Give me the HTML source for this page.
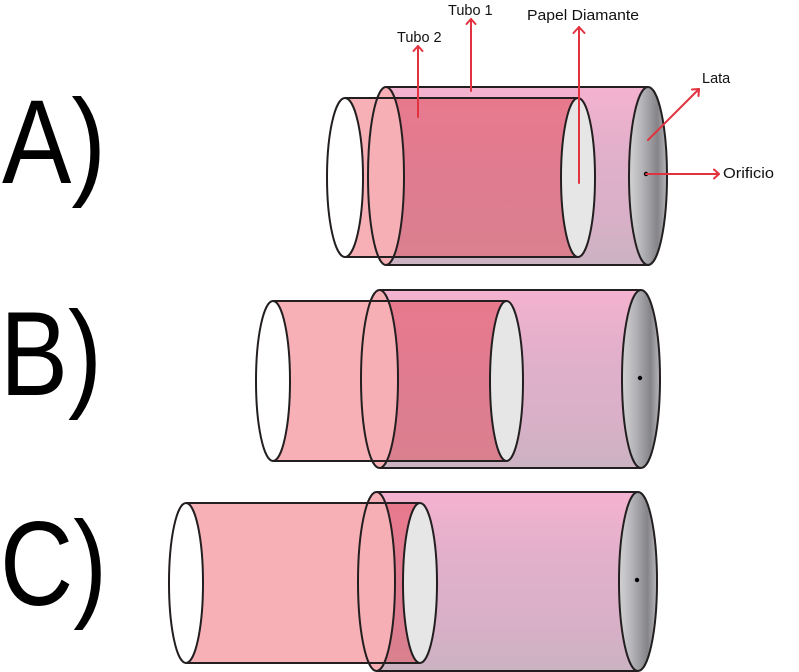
<!DOCTYPE html>
<html><head><meta charset="utf-8"><style>
html,body{margin:0;padding:0;background:#fff;}
svg{display:block;}
</style></head><body>
<svg width="799" height="672" viewBox="0 0 799 672" xmlns="http://www.w3.org/2000/svg">
<defs>
<linearGradient id="t1" x1="0" y1="0" x2="0" y2="1">
<stop offset="0" stop-color="#f4b2cf"/>
<stop offset="0.35" stop-color="#e2b0cb"/>
<stop offset="0.75" stop-color="#d8b0c7"/>
<stop offset="1" stop-color="#cbb3c2"/>
</linearGradient>
<linearGradient id="dk" x1="0" y1="0" x2="0" y2="1">
<stop offset="0" stop-color="#e8798d"/>
<stop offset="0.5" stop-color="#e07c90"/>
<stop offset="1" stop-color="#d9808f"/>
</linearGradient>
<linearGradient id="lata" x1="0" y1="0" x2="1" y2="0">
<stop offset="0" stop-color="#d2d2d4"/>
<stop offset="0.35" stop-color="#b4b4b8"/>
<stop offset="0.75" stop-color="#848489"/>
<stop offset="1" stop-color="#b8b8bc"/>
</linearGradient>
</defs>

<g font-family="Liberation Sans, Arial, sans-serif" fill="#000">
<text x="2" y="183" font-size="120" textLength="104" lengthAdjust="spacingAndGlyphs">A)</text>
<text x="0" y="395" font-size="120" textLength="102" lengthAdjust="spacingAndGlyphs">B)</text>
<text x="0" y="605" font-size="120" textLength="107" lengthAdjust="spacingAndGlyphs">C)</text>
</g>

<!-- Panel A -->
<g stroke="#231f20" stroke-width="2">
<rect x="386" y="87" width="262" height="178" fill="url(#t1)" stroke="none"/>
<rect x="345" y="98" width="233" height="159" fill="#f6b0b6" stroke="none"/>
<rect x="386" y="98" width="192" height="159" fill="url(#dk)" stroke="none"/>
<ellipse cx="386" cy="176" rx="18" ry="89" fill="#f6afb5"/>
<line x1="345" y1="98" x2="578" y2="98"/>
<line x1="345" y1="257" x2="578" y2="257"/>
<ellipse cx="578" cy="177.5" rx="17" ry="79.5" fill="#e6e6e6"/>
<ellipse cx="345" cy="177.5" rx="18" ry="79.5" fill="#fff"/>
<ellipse cx="648" cy="176" rx="19" ry="89" fill="url(#lata)"/>
<line x1="386" y1="87" x2="648" y2="87"/>
<line x1="386" y1="265" x2="648" y2="265"/>
</g>
<circle cx="646" cy="174" r="2.2" fill="#000"/>

<!-- Panel B -->
<g stroke="#231f20" stroke-width="2">
<rect x="379.5" y="290" width="261.5" height="178" fill="url(#t1)" stroke="none"/>
<rect x="273" y="301" width="233.5" height="160" fill="#f6b0b6" stroke="none"/>
<rect x="379.5" y="301" width="127" height="160" fill="url(#dk)" stroke="none"/>
<ellipse cx="379.5" cy="379" rx="18.5" ry="89" fill="#f6afb5"/>
<line x1="273" y1="301" x2="506.5" y2="301"/>
<line x1="273" y1="461" x2="506.5" y2="461"/>
<ellipse cx="506.5" cy="381" rx="16.5" ry="80" fill="#e6e6e6"/>
<ellipse cx="273" cy="381" rx="17" ry="80" fill="#fff"/>
<ellipse cx="641" cy="379" rx="19" ry="89" fill="url(#lata)"/>
<line x1="379.5" y1="290" x2="641" y2="290"/>
<line x1="379.5" y1="468" x2="641" y2="468"/>
</g>
<circle cx="640" cy="378" r="2.2" fill="#000"/>

<!-- Panel C -->
<g stroke="#231f20" stroke-width="2">
<rect x="376.5" y="492" width="261.5" height="179" fill="url(#t1)" stroke="none"/>
<rect x="186" y="503" width="234" height="160" fill="#f6b0b6" stroke="none"/>
<rect x="376.5" y="503" width="43.5" height="160" fill="url(#dk)" stroke="none"/>
<ellipse cx="376.5" cy="581.5" rx="18.5" ry="89.5" fill="#f6afb5"/>
<line x1="186" y1="503" x2="420" y2="503"/>
<line x1="186" y1="663" x2="420" y2="663"/>
<ellipse cx="420" cy="583" rx="17" ry="80" fill="#e6e6e6"/>
<ellipse cx="186" cy="583" rx="17" ry="80" fill="#fff"/>
<ellipse cx="638" cy="581.5" rx="19" ry="89.5" fill="url(#lata)"/>
<line x1="376.5" y1="492" x2="638" y2="492"/>
<line x1="376.5" y1="671" x2="638" y2="671"/>
</g>
<circle cx="637" cy="580" r="2.2" fill="#000"/>

<!-- Arrows -->
<g stroke="#e2323f" stroke-width="2" fill="none" stroke-linecap="round" stroke-linejoin="round">
<line x1="418" y1="117" x2="418" y2="46"/>
<polyline points="413.5,51 418,46 422.5,51"/>
<line x1="471" y1="91" x2="471" y2="19"/>
<polyline points="466.5,24 471,19 475.5,24"/>
<line x1="579" y1="183" x2="579" y2="27"/>
<polyline points="573.5,33 579,27 584.5,33"/>
<line x1="648" y1="140" x2="699" y2="89"/>
<polyline points="692,89.5 699,89 698.5,96"/>
<line x1="646" y1="174" x2="719" y2="174"/>
<polyline points="714,169.5 719,174 714,178.5"/>
</g>

<g font-family="Liberation Sans, Arial, sans-serif" font-size="14.5" fill="#111">
<text x="448" y="15">Tubo 1</text>
<text x="527" y="20" textLength="112" lengthAdjust="spacingAndGlyphs">Papel Diamante</text>
<text x="397" y="42">Tubo 2</text>
<text x="702" y="83">Lata</text>
<text x="723" y="178" textLength="51" lengthAdjust="spacingAndGlyphs">Orificio</text>
</g>
</svg>
</body></html>
